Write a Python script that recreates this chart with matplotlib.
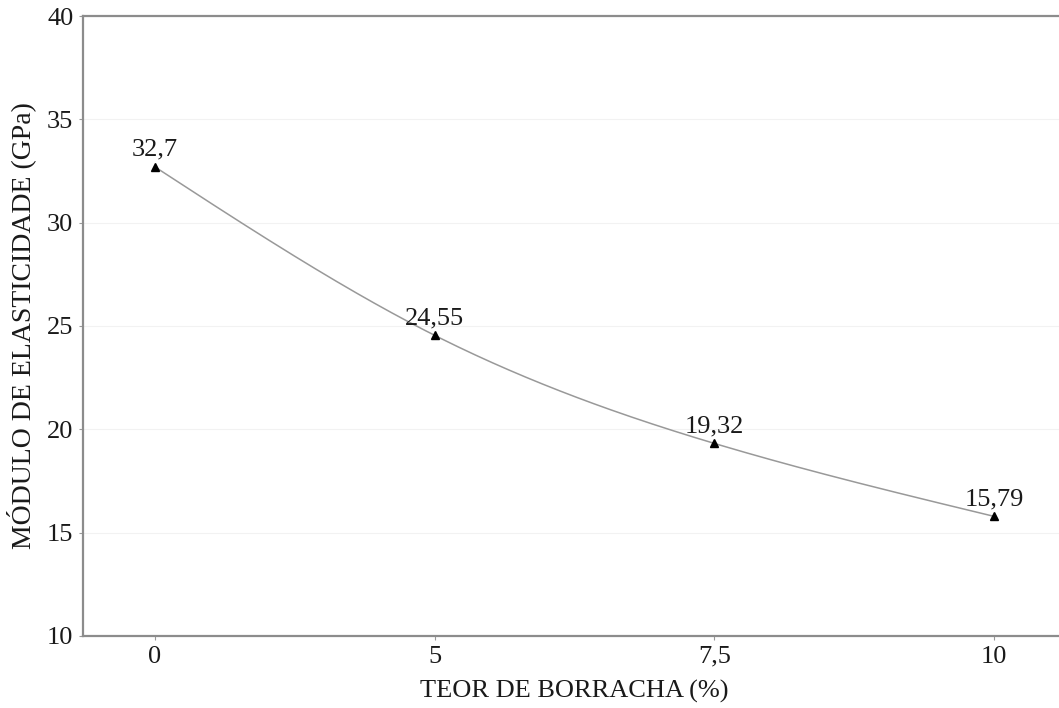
import matplotlib.pyplot as plt
import numpy as np

teor_labels = ['0', '5', '7,5', '10']
modulo = [32.7, 24.55, 19.32, 15.79]
point_labels = ['32,7', '24,55', '19,32', '15,79']


def natural_spline(x, y, n=200):
    # natural cubic spline, only used to draw the smooth connecting line
    x = np.asarray(x, float)
    y = np.asarray(y, float)
    k = len(x)
    h = np.diff(x)
    A = np.zeros((k, k))
    b = np.zeros(k)
    A[0, 0] = A[-1, -1] = 1
    for i in range(1, k - 1):
        A[i, i - 1] = h[i - 1]
        A[i, i] = 2 * (h[i - 1] + h[i])
        A[i, i + 1] = h[i]
        b[i] = 3 * ((y[i + 1] - y[i]) / h[i] - (y[i] - y[i - 1]) / h[i - 1])
    c = np.linalg.solve(A, b)
    xs = np.linspace(x[0], x[-1], n)
    ys = np.empty_like(xs)
    for j, t in enumerate(xs):
        i = min(np.searchsorted(x, t, side='right') - 1, k - 2)
        d = t - x[i]
        bi = (y[i + 1] - y[i]) / h[i] - h[i] * (2 * c[i] + c[i + 1]) / 3
        di = (c[i + 1] - c[i]) / (3 * h[i])
        ys[j] = y[i] + bi * d + c[i] * d ** 2 + di * d ** 3
    return xs, ys


def create_plot():
    plt.rcParams['font.family'] = ['Liberation Serif', 'DejaVu Serif']
    fig = plt.figure(figsize=(10.59, 7.08), dpi=100)
    ax = fig.add_axes([0.0784, 0.1017, 0.928, 0.8757])

    pos = np.arange(len(teor_labels))
    xs, ys = natural_spline(pos, modulo)
    ax.plot(xs, ys, color='#999999', lw=1.1, zorder=2)
    ax.plot(pos, modulo, ls='none', marker='^', ms=6, color='black', zorder=3)
    for p, v, lab in zip(pos, modulo, point_labels):
        ax.text(p, v + 0.3, lab, ha='center', va='bottom', fontsize=19, color='#1a1a1a')

    ax.set_xlim(-0.257, 3.257)
    ax.set_ylim(10, 40)
    ax.set_yticks([10, 15, 20, 25, 30, 35, 40])
    ax.set_xticks(pos)
    ax.set_xticklabels(teor_labels)
    ax.tick_params(labelsize=19, length=3, color='#999999', labelcolor='#1a1a1a', pad=4)
    ax.grid(axis='y', color='#f2f2f2', lw=0.8)
    ax.set_axisbelow(True)
    for side in ['left', 'bottom', 'top']:
        ax.spines[side].set_color('#8c8c8c')
        ax.spines[side].set_linewidth(1.6)
    ax.spines['right'].set_visible(False)

    ax.set_xlabel('TEOR DE BORRACHA (%)', fontsize=19, color='#1a1a1a', labelpad=9)
    ax.set_ylabel('MÓDULO DE ELASTICIDADE (GPa)', fontsize=20, color='#1a1a1a', labelpad=8)

    plt.savefig('out.png')


if __name__ == "__main__":
    create_plot()
